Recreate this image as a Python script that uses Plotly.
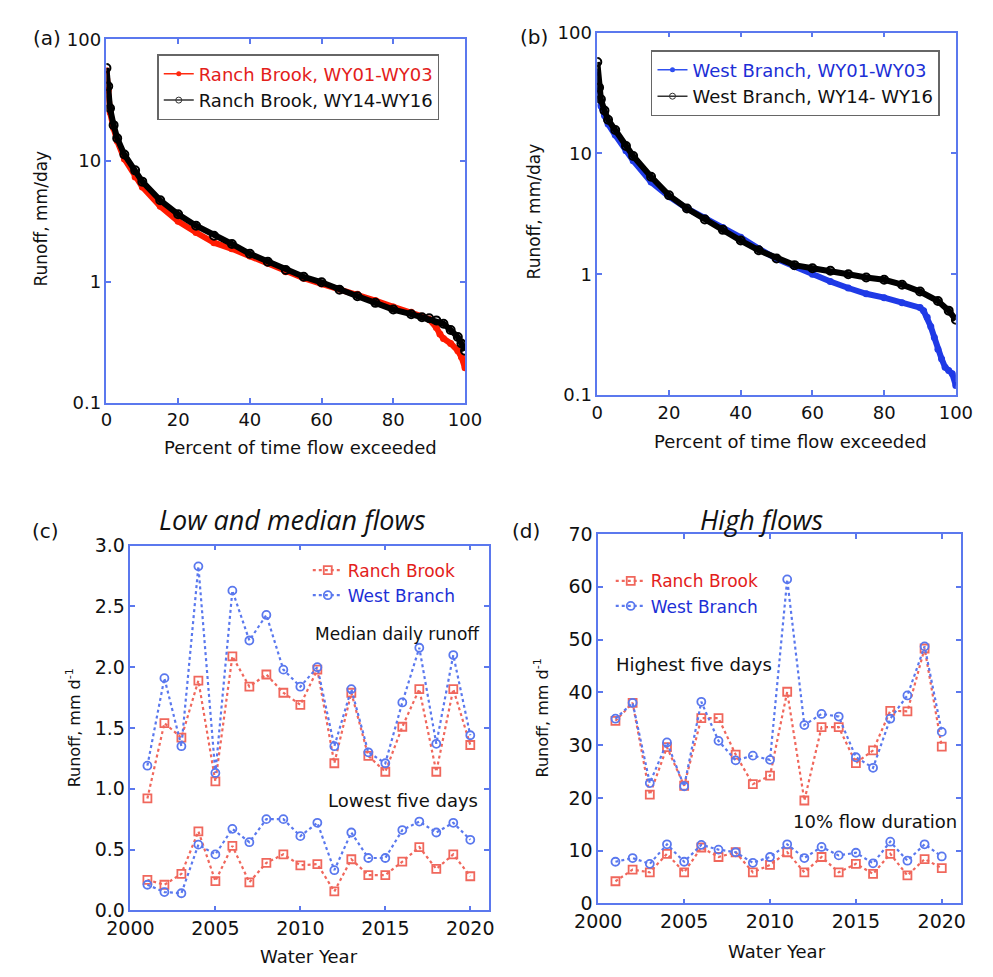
import plotly.graph_objects as go

# ---------------- data ----------------
# (a) Ranch Brook flow-duration curves (percent of time exceeded, runoff mm/day)
rb_0103_pct = [0, 0.5, 1, 2, 3, 5, 8, 10, 15, 20, 25, 30, 35, 40, 45, 50, 55, 60, 65, 70, 75, 80, 85, 88, 90, 92, 93, 94, 96, 98, 99, 100]
rb_0103_q = [55, 38, 25, 18.5, 14.5, 10.3, 7.3, 6.05, 4.2, 3.16, 2.55, 2.1, 1.87, 1.63, 1.42, 1.21, 1.07, 0.96, 0.87, 0.79, 0.70, 0.62, 0.56, 0.52, 0.49, 0.42, 0.37, 0.34, 0.31, 0.27, 0.24, 0.195]
rb_1416_pct = [0, 0.5, 1, 2, 3, 5, 8, 10, 15, 20, 25, 30, 35, 40, 45, 50, 55, 60, 65, 70, 75, 80, 85, 88, 90, 92, 94, 96, 98, 99, 100]
rb_1416_q = [58, 41, 27, 19.6, 15.3, 11.2, 8.3, 6.7, 4.7, 3.6, 2.9, 2.4, 2.05, 1.70, 1.46, 1.25, 1.10, 0.99, 0.86, 0.76, 0.67, 0.59, 0.54, 0.51, 0.50, 0.48, 0.45, 0.40, 0.35, 0.31, 0.27]

# (b) West Branch flow-duration curves
wb_0103_pct = [0, 0.5, 1, 2, 3, 5, 8, 10, 15, 20, 25, 30, 35, 40, 45, 50, 55, 60, 65, 70, 75, 80, 85, 90, 91, 92, 93, 94, 95, 96, 97, 98, 99, 100]
wb_0103_q = [47, 33, 24.8, 20.6, 17.5, 14.2, 10.5, 8.7, 5.8, 4.4, 3.5, 2.93, 2.44, 2.02, 1.63, 1.34, 1.16, 1.0, 0.87, 0.77, 0.69, 0.64, 0.58, 0.53, 0.50, 0.44, 0.37, 0.30, 0.24, 0.20, 0.17, 0.16, 0.15, 0.12]
wb_1416_pct = [0, 0.5, 1, 2, 3, 5, 8, 10, 15, 20, 25, 30, 35, 40, 45, 50, 55, 60, 65, 70, 75, 80, 85, 90, 95, 98, 100]
wb_1416_q = [57, 35, 28, 22.6, 19.0, 15.6, 11.5, 9.5, 6.4, 4.5, 3.5, 2.84, 2.33, 1.90, 1.58, 1.35, 1.19, 1.12, 1.07, 1.0, 0.94, 0.90, 0.82, 0.72, 0.60, 0.50, 0.42]

# (c), (d) annual statistics
years = list(range(2001, 2021))
rb_median = [0.92, 1.54, 1.42, 1.89, 1.06, 2.09, 1.84, 1.94, 1.79, 1.69, 1.98, 1.21, 1.79, 1.27, 1.14, 1.51, 1.82, 1.14, 1.82, 1.36]
wb_median = [1.19, 1.91, 1.35, 2.83, 1.13, 2.63, 2.22, 2.43, 1.98, 1.84, 2.00, 1.35, 1.82, 1.30, 1.21, 1.71, 2.16, 1.37, 2.10, 1.44]
rb_low5 = [0.25, 0.21, 0.30, 0.65, 0.24, 0.53, 0.23, 0.39, 0.46, 0.37, 0.38, 0.155, 0.42, 0.29, 0.29, 0.40, 0.52, 0.34, 0.46, 0.28]
wb_low5 = [0.21, 0.15, 0.14, 0.54, 0.46, 0.67, 0.56, 0.75, 0.75, 0.61, 0.72, 0.33, 0.64, 0.43, 0.43, 0.66, 0.73, 0.64, 0.72, 0.58]
rb_high5 = [34.6, 38.0, 20.6, 29.6, 22.3, 35.1, 35.1, 28.2, 22.6, 24.2, 40.1, 19.5, 33.4, 33.4, 26.6, 29.0, 36.5, 36.4, 48.3, 29.7]
wb_high5 = [35.0, 38.0, 22.8, 30.5, 22.2, 38.2, 30.8, 27.1, 28.0, 27.2, 61.4, 33.8, 35.9, 35.4, 27.7, 25.7, 35.0, 39.4, 48.7, 32.5]
rb_q10 = [4.2, 6.4, 5.9, 9.4, 5.9, 10.6, 8.8, 9.7, 5.9, 7.3, 9.7, 5.9, 8.8, 5.9, 7.5, 5.6, 9.4, 5.3, 8.4, 6.7]
wb_q10 = [7.9, 8.6, 7.5, 11.2, 7.9, 11.1, 10.2, 9.7, 7.7, 8.8, 11.2, 8.6, 10.7, 9.1, 9.6, 7.6, 11.7, 8.1, 11.2, 8.9]

# ---------------- styling ----------------
W, H = 993, 977
def px(x):
    return x / W
def py(y):
    return 1 - y / H

FONT = "DejaVu Sans"
AXC = "#5b78ee"
RED_TXT = "#e3201a"
BLUE_TXT = "#1c2fd6"
RED_LN = "#f0675c"
BLUE_LN = "#5a78ee"

fig = go.Figure()

# ---- panel (a)
fig.add_trace(go.Scatter(x=rb_0103_pct, y=rb_0103_q, mode="lines+markers", xaxis="x", yaxis="y",
                         line=dict(color="#ff1a00", width=6), marker=dict(color="#ff1a00", size=7),
                         showlegend=False))
fig.add_trace(go.Scatter(x=rb_1416_pct, y=rb_1416_q, mode="lines+markers", xaxis="x", yaxis="y",
                         line=dict(color="black", width=6),
                         marker=dict(color="black", size=8, symbol="circle-open", line=dict(width=2)),
                         showlegend=False))
fig.add_trace(go.Scatter(x=[None], y=[None], mode="lines+markers", xaxis="x", yaxis="y",
                         name=f"<span style='color:{RED_TXT}'>Ranch Brook, WY01-WY03</span>",
                         line=dict(color="#ff2a10", width=1.5), marker=dict(color="#ff2a10", size=5),
                         legend="legend"))
fig.add_trace(go.Scatter(x=[None], y=[None], mode="lines+markers", xaxis="x", yaxis="y",
                         name="Ranch Brook, WY14-WY16",
                         line=dict(color="#333333", width=1.5),
                         marker=dict(color="#333333", size=6, symbol="circle-open"),
                         legend="legend"))

# ---- panel (b)
fig.add_trace(go.Scatter(x=wb_0103_pct, y=wb_0103_q, mode="lines+markers", xaxis="x2", yaxis="y2",
                         line=dict(color="#1f3ae6", width=6), marker=dict(color="#1f3ae6", size=7),
                         showlegend=False))
fig.add_trace(go.Scatter(x=wb_1416_pct, y=wb_1416_q, mode="lines+markers", xaxis="x2", yaxis="y2",
                         line=dict(color="black", width=6),
                         marker=dict(color="black", size=8, symbol="circle-open", line=dict(width=2)),
                         showlegend=False))
fig.add_trace(go.Scatter(x=[None], y=[None], mode="lines+markers", xaxis="x2", yaxis="y2",
                         name=f"<span style='color:{BLUE_TXT}'>West Branch, WY01-WY03</span>",
                         line=dict(color="#3050f0", width=1.5), marker=dict(color="#3050f0", size=5),
                         legend="legend2"))
fig.add_trace(go.Scatter(x=[None], y=[None], mode="lines+markers", xaxis="x2", yaxis="y2",
                         name="West Branch, WY14- WY16",
                         line=dict(color="#333333", width=1.5),
                         marker=dict(color="#333333", size=6, symbol="circle-open"),
                         legend="legend2"))

# ---- panels (c) and (d)
def stat_trace(x, y, color, symbol, ax, ay, name=None, legend=None, show=False):
    return go.Scatter(x=x, y=y, mode="lines+markers", xaxis=ax, yaxis=ay,
                      line=dict(color=color, width=2.2, dash="dot"),
                      marker=dict(color=color, size=8, symbol=symbol, line=dict(width=1.8, color=color)),
                      name=name, showlegend=show, legend=legend)

fig.add_trace(stat_trace(years, rb_median, RED_LN, "square-open", "x3", "y3",
                         name=f"<span style='color:{RED_TXT}'>Ranch Brook</span>", legend="legend3", show=True))
fig.add_trace(stat_trace(years, wb_median, BLUE_LN, "circle-open", "x3", "y3",
                         name=f"<span style='color:{BLUE_TXT}'>West Branch</span>", legend="legend3", show=True))
fig.add_trace(stat_trace(years, rb_low5, RED_LN, "square-open", "x3", "y3"))
fig.add_trace(stat_trace(years, wb_low5, BLUE_LN, "circle-open", "x3", "y3"))

fig.add_trace(stat_trace(years, rb_high5, RED_LN, "square-open", "x4", "y4",
                         name=f"<span style='color:{RED_TXT}'>Ranch Brook</span>", legend="legend4", show=True))
fig.add_trace(stat_trace(years, wb_high5, BLUE_LN, "circle-open", "x4", "y4",
                         name=f"<span style='color:{BLUE_TXT}'>West Branch</span>", legend="legend4", show=True))
fig.add_trace(stat_trace(years, rb_q10, RED_LN, "square-open", "x4", "y4"))
fig.add_trace(stat_trace(years, wb_q10, BLUE_LN, "circle-open", "x4", "y4"))

# ---------------- axes ----------------
def axis_style(size=18, **kw):
    d = dict(showline=True, linecolor=AXC, linewidth=1.5, mirror="ticks", ticks="inside",
             ticklen=5, tickcolor=AXC, tickwidth=1.5, showgrid=False, zeroline=False,
             tickfont=dict(family=FONT, size=size, color="#111111"))
    d.update(kw)
    return d

fig.update_layout(
    width=W, height=H, margin=dict(l=0, r=0, t=0, b=0),
    paper_bgcolor="white", plot_bgcolor="white",
    font=dict(family=FONT, color="#111111"),
    xaxis=axis_style(domain=[px(86), px(460)], anchor="y", range=[0, 100], dtick=20, tick0=0),
    yaxis=axis_style(domain=[py(401), py(29)], anchor="x", type="log", range=[-1, 2],
                     tickvals=[0.1, 1, 10, 100], ticktext=["0.1", "1", "10", "100"]),
    xaxis2=axis_style(domain=[px(598), px(972)], anchor="y2", range=[0, 100], dtick=20, tick0=0),
    yaxis2=axis_style(domain=[py(393), py(22)], anchor="x2", type="log", range=[-1, 2],
                      tickvals=[0.1, 1, 10, 100], ticktext=["0.1", "1", "10", "100"]),
    xaxis3=axis_style(size=19, domain=[px(111), px(485)], anchor="y3", range=[2000, 2021.1], dtick=5, tick0=2000),
    yaxis3=axis_style(size=19, domain=[py(920), py(547)], anchor="x3", range=[0, 3.0], dtick=0.5, tickformat=".1f"),
    xaxis4=axis_style(size=19, domain=[px(599), px(977)], anchor="y4", range=[2000, 2021.1], dtick=5, tick0=2000),
    yaxis4=axis_style(size=19, domain=[py(913), py(535)], anchor="x4", range=[0, 70], dtick=10),
    legend=dict(x=px(139), y=py(44), xanchor="left", yanchor="top", bgcolor="white",
                bordercolor="#666666", borderwidth=1.5, font=dict(family=FONT, size=18, color="#111111"),
                itemwidth=30, tracegroupgap=0),
    legend2=dict(x=px(654), y=py(40), xanchor="left", yanchor="top", bgcolor="white",
                 bordercolor="#666666", borderwidth=1.5, font=dict(family=FONT, size=18, color="#111111"),
                 itemwidth=30),
    legend3=dict(x=px(296), y=py(554), xanchor="left", yanchor="top", bgcolor="rgba(0,0,0,0)",
                 borderwidth=0, font=dict(family=FONT, size=17), itemwidth=30),
    legend4=dict(x=px(612), y=py(565), xanchor="left", yanchor="top", bgcolor="rgba(0,0,0,0)",
                 borderwidth=0, font=dict(family=FONT, size=17), itemwidth=30),
)

# ---------------- text annotations ----------------
def ann(text, x, y, size=15, xanchor="center", yanchor="middle", angle=0, italic=False, family=FONT):
    fig.add_annotation(text=text, x=px(x), y=py(y), xref="paper", yref="paper", showarrow=False,
                       xanchor=xanchor, yanchor=yanchor, textangle=angle,
                       font=dict(family=family, size=size, color="#111111",
                                 style="italic" if italic else "normal"))

# panel labels
ann("(a)", 24, 28, size=20)
ann("(b)", 532, 27, size=20)
ann("(c)", 22, 532, size=20)
ann("(d)", 524, 532, size=20)

# titles
ann("Low and median flows", 280, 520, size=27, italic=True, family="Open Sans")
ann("High flows", 770, 520, size=27, italic=True, family="Open Sans")

# axis titles
ann("Runoff, mm/day", 18, 212, size=17, angle=-90)
ann("Percent of time flow exceeded", 288, 447, size=18)
ann("Runoff, mm/day", 532, 205, size=17, angle=-90)
ann("Percent of time flow exceeded", 800, 440, size=18)
ann("Runoff, mm d<sup>-1</sup>", 52, 733, size=16, angle=-90)
ann("Water Year", 297, 967, size=18)
ann("Runoff, mm d<sup>-1</sup>", 540, 723, size=16, angle=-90)
ann("Water Year", 785, 962, size=18)

# in-panel labels
ann("Median daily runoff", 478, 637, size=17, xanchor="right")
ann("Lowest five days", 476, 808, size=18, xanchor="right")
ann("Highest five days", 615, 669, size=18, xanchor="left")
ann("10% flow duration", 975, 829, size=18, xanchor="right")

fig.write_html("out.html")
